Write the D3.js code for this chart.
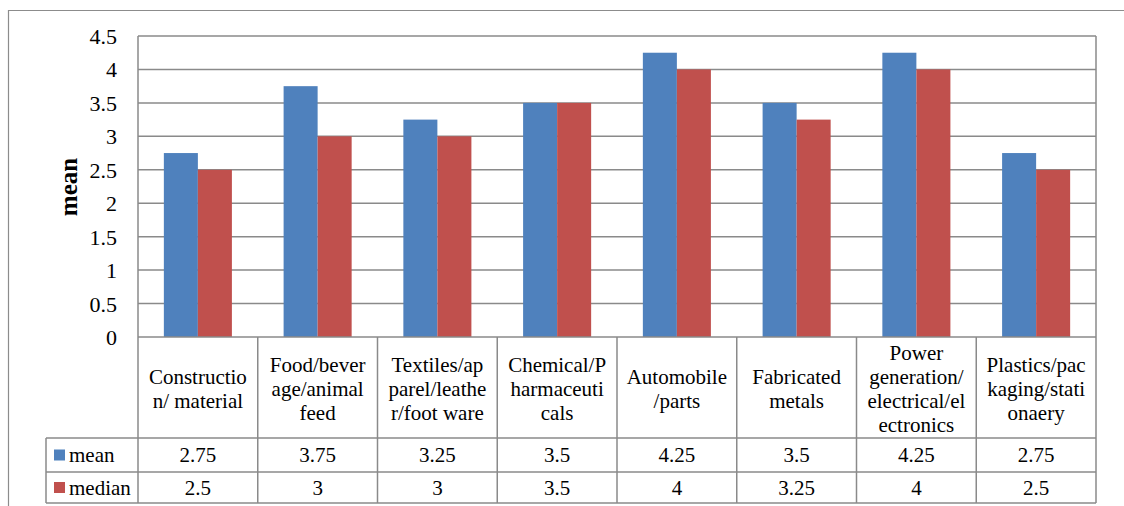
<!DOCTYPE html>
<html><head><meta charset="utf-8">
<script src="https://cdn.jsdelivr.net/npm/d3@7"></script>
</head>
<body style="margin:0;background:#fff">
<svg id="chart" width="1124" height="506" font-family="Times New Roman" style="display:block;font-family:'Times New Roman'"></svg>
<script>
const categories = [
  ["Constructio","n/ material"],
  ["Food/bever","age/animal","feed"],
  ["Textiles/ap","parel/leathe","r/foot ware"],
  ["Chemical/P","harmaceuti","cals"],
  ["Automobile","/parts"],
  ["Fabricated","metals"],
  ["Power","generation/","electrical/el","ectronics"],
  ["Plastics/pac","kaging/stati","onaery"]
];
const seriesNames = ["mean","median"];
const meanValues = [2.75,3.75,3.25,3.5,4.25,3.5,4.25,2.75];
const medianValues = [2.5,3,3,3.5,4,3.25,4,2.5];
const meanLabels = ["2.75","3.75","3.25","3.5","4.25","3.5","4.25","2.75"];
const medianLabels = ["2.5","3","3","3.5","4","3.25","4","2.5"];
const yTicks = [0,0.5,1,1.5,2,2.5,3,3.5,4,4.5];
const yTitle = "mean";

const FONT = 'Times New Roman';
const colors = {mean:"#4F81BD", median:"#C0504D"};
const series = [
  {name:"mean", values:meanValues, labels:meanLabels},
  {name:"median", values:medianValues, labels:medianLabels}
];

const svg = d3.select("#chart");
const L = 138, R = 1096, T = 36, B = 337;
const rowCat = 438, rowMean = 472, rowMed = 503, legL = 46;
const gridColor = "#8a8a8a";

function txt(sel){ return sel.attr("font-family",FONT).style("font-family",FONT).attr("fill","#000"); }

svg.append("path").attr("d", `M8.5,506 V10.5 H1124`).attr("fill","none").attr("stroke","#8c8c8c").attr("stroke-width",1.2);

const x0 = d3.scaleBand().domain(d3.range(categories.length)).range([L,R]).padding(0);
const x1 = d3.scaleBand().domain(seriesNames).range([0,x0.bandwidth()]).paddingInner(0).paddingOuter(0.76);
const y = d3.scaleLinear().domain([0,4.5]).range([B,T]);

svg.append("g").selectAll("line").data(yTicks.filter(d=>d>0)).join("line")
  .attr("x1",L).attr("x2",R).attr("y1",d=>y(d)).attr("y2",d=>y(d))
  .attr("stroke",gridColor).attr("stroke-width",1.5);

const yAxis = d3.axisLeft(y).tickValues(yTicks).tickSize(0).tickPadding(21).tickFormat(d=>String(d));
const gy = svg.append("g").attr("transform",`translate(${L},0)`).call(yAxis);
gy.select(".domain").remove();
gy.attr("font-family",FONT).attr("font-size",22);
txt(gy.selectAll("text")).attr("dy","0.34em");

txt(svg.append("text").attr("transform","translate(77,187) rotate(-90)").attr("text-anchor","middle"))
  .attr("font-size",25).attr("font-weight","bold").text(yTitle);

const g = svg.append("g");
series.forEach(s=>{
  g.selectAll(null).data(s.values).join("rect")
    .attr("x",(d,i)=>x0(i)+x1(s.name))
    .attr("width",x1.bandwidth())
    .attr("y",d=>y(d))
    .attr("height",d=>y(0)-y(d))
    .attr("fill",colors[s.name]);
});

svg.append("path").attr("d",`M${L},${T} V${rowMed} M${R},${T} V${rowMed}`).attr("stroke",gridColor).attr("stroke-width",1.5).attr("fill","none");
svg.append("line").attr("x1",L).attr("x2",R).attr("y1",B).attr("y2",B).attr("stroke",gridColor).attr("stroke-width",1.5);

[rowCat,rowMean,rowMed].forEach(yy=>{
  svg.append("line").attr("x1",legL).attr("x2",R).attr("y1",yy).attr("y2",yy).attr("stroke",gridColor).attr("stroke-width",1.5);
});
svg.append("line").attr("x1",legL).attr("x2",legL).attr("y1",rowCat).attr("y2",rowMed).attr("stroke",gridColor).attr("stroke-width",1.5);
svg.append("g").selectAll("line").data(d3.range(1,categories.length)).join("line")
  .attr("x1",d=>x0(d)).attr("x2",d=>x0(d)).attr("y1",B).attr("y2",rowMed)
  .attr("stroke",gridColor).attr("stroke-width",1.5);

const catCenter = 389, lh = 24;
categories.forEach((lines,i)=>{
  const t = txt(svg.append("text").attr("text-anchor","middle")).attr("font-size",21);
  lines.forEach((ln,j)=>{
    t.append("tspan").attr("x",x0(i)+x0.bandwidth()/2)
      .attr("y",catCenter + (j-(lines.length-1)/2)*lh).attr("dy","0.34em").text(ln);
  });
});

const rowCenters = [(rowCat+rowMean)/2, (rowMean+rowMed)/2];
series.forEach((s,si)=>{
  const cy = rowCenters[si];
  svg.append("rect").attr("x",54).attr("y",cy-5.5).attr("width",11).attr("height",11).attr("fill",colors[s.name]);
  txt(svg.append("text").attr("x",69).attr("y",cy).attr("dy","0.34em")).attr("font-size",21).text(s.name);
  txt(svg.append("g").selectAll("text").data(s.labels).join("text")
    .attr("x",(d,i)=>x0(i)+x0.bandwidth()/2).attr("y",cy).attr("dy","0.34em")
    .attr("text-anchor","middle")).attr("font-size",21).text(d=>d);
});
</script>
</body></html>
